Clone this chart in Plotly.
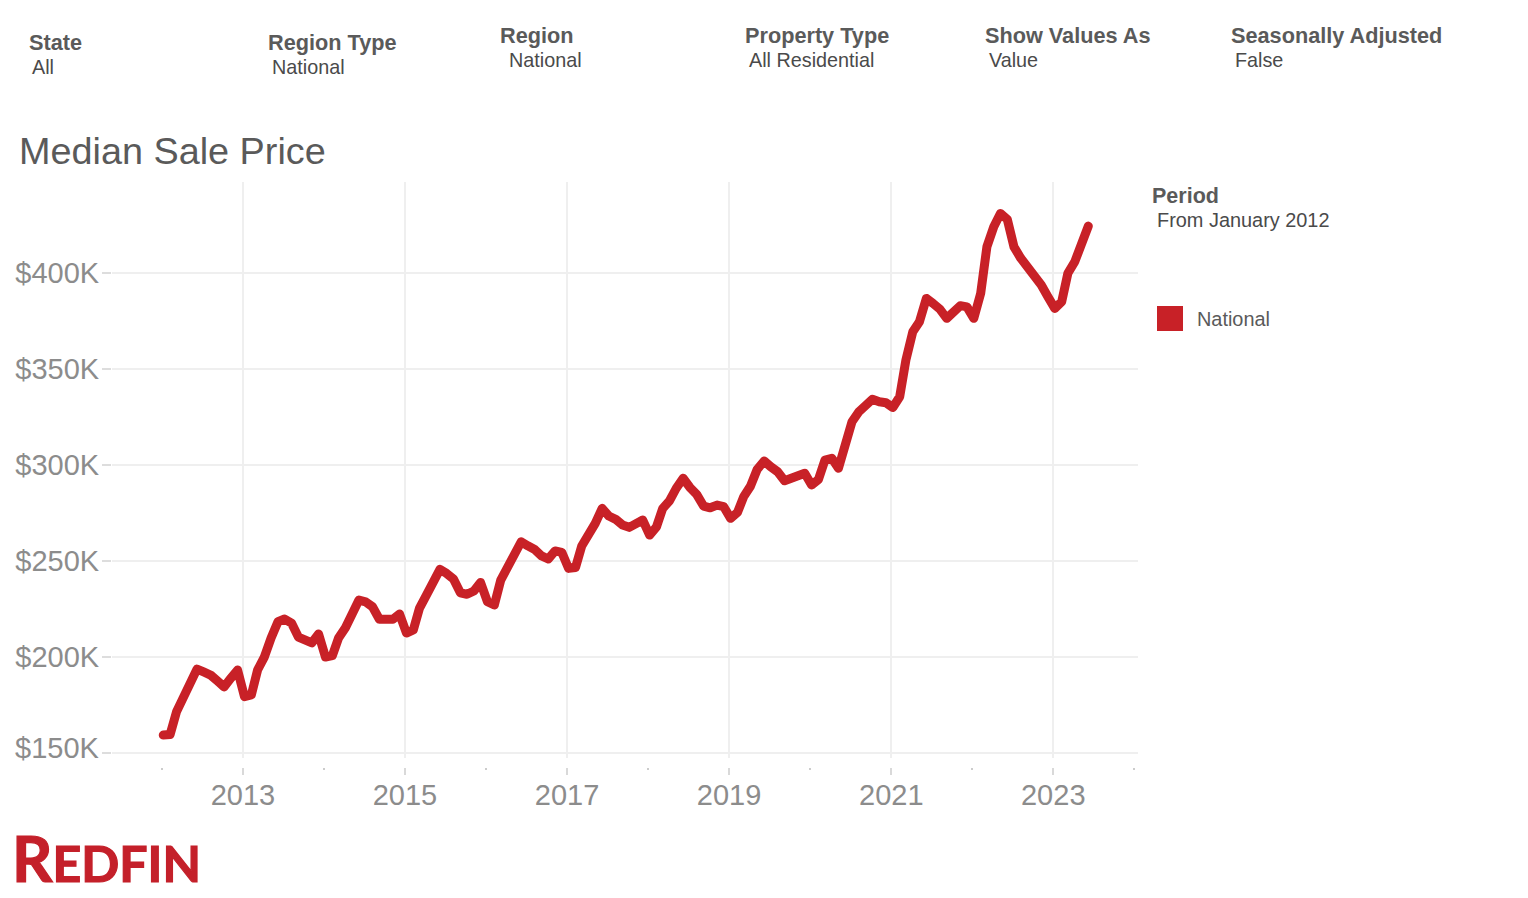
import pandas as pd
import plotly.graph_objects as go

months = pd.date_range("2012-01-08", periods=138, freq=pd.DateOffset(months=1))
median_sale_price_k = [
    159.1, 159.4, 171.3, 178.4, 186.2, 193.5, 192.0, 190.4, 187.3, 184.2, 188.8, 193.0,
    179.1, 180.0, 193.0, 199.9, 209.7, 218.2, 219.6, 217.5, 210.2, 209.2, 207.2, 211.8,
    199.8, 200.5, 209.7, 215.1, 221.7, 229.5, 228.6, 226.0, 219.5, 219.1, 219.5, 222.2,
    212.3, 213.9, 225.3, 232.1, 239.1, 245.5, 243.4, 240.5, 233.3, 232.5, 234.2, 238.7,
    228.6, 226.9, 239.9, 246.6, 253.0, 259.9, 257.8, 255.9, 252.5, 250.9, 255.1, 254.4,
    246.0, 246.5, 257.7, 262.9, 269.5, 277.3, 273.3, 271.6, 268.6, 267.4, 269.8, 271.2,
    263.4, 267.7, 277.3, 281.3, 287.8, 293.0, 288.3, 284.6, 278.5, 277.6, 279.0, 278.2,
    272.1, 275.2, 283.4, 289.0, 297.7, 302.0, 299.0, 296.4, 291.7, 293.0, 294.0, 295.6,
    289.5, 292.4, 302.5, 303.4, 298.2, 310.3, 322.5, 327.7, 331.6, 334.2, 332.9, 332.4,
    329.9, 335.5, 354.7, 369.4, 374.6, 386.8, 384.2, 381.2, 376.4, 379.3, 383.0, 382.4,
    376.4, 389.4, 413.7, 424.2, 431.1, 428.0, 413.7, 407.7, 403.3, 399.9, 393.8, 387.7,
    381.6, 385.0, 399.9, 405.9, 416.3, 424.5,
]
y_ticks = [150, 200, 250, 300, 350, 400]
y_labels = ["", "$200K", "$250K", "$300K", "$350K", "$400K"]
lowest_label = "$150K"

filters = [
    ("State", "All", 29, 42.5, 32, 67),
    ("Region Type", "National", 268, 42.5, 272, 67),
    ("Region", "National", 500, 35.5, 509, 60),
    ("Property Type", "All Residential", 745, 35.5, 749, 60),
    ("Show Values As", "Value", 985, 35.5, 988.5, 60),
    ("Seasonally Adjusted", "False", 1231, 35.5, 1235, 60),
]

W, H = 1528, 898
L, R, T, B = 112, 1138, 182, 767
FONT = "Liberation Sans"
RED = "#c82127"


def px(x):
    return (x - L) / (R - L)


def py(y):
    return (B - y) / (B - T)


def text(x, y, s, size, color, bold=False, family=FONT, anchor="left"):
    return dict(
        xref="paper", yref="paper", x=px(x), y=py(y), text=f"<b>{s}</b>" if bold else s,
        showarrow=False, xanchor=anchor, yanchor="middle",
        font=dict(family=family, size=size, color=color), borderpad=0, borderwidth=0,
    )


anns = []
for head, val, hx, hy, vx, vy in filters:
    anns.append(text(hx, hy, head, 21.7, "#5a5a5a", bold=True))
    anns.append(text(vx, vy, val, 19.8, "#4a4a4a"))
anns.append(text(19, 151, "Median Sale Price", 37.8, "#5a5a5a"))
anns.append(text(1152, 195.5, "Period", 21.5, "#5a5a5a", bold=True))
anns.append(text(1157, 220, "From January 2012", 19.9, "#4a4a4a"))
anns.append(text(1197, 319, "National", 19.9, "#5a5a5a"))
anns.append(text(100, 748, lowest_label, 29, "#8c8c8c", anchor="right"))
anns.append(text(
    12, 858,
    '<span style="font-size:63px">R</span><span style="font-size:50px">EDFIN</span>',
    50, "#c4202a", bold=True, family="Lato",
))

fig = go.Figure(go.Scatter(
    x=months, y=median_sale_price_k, mode="lines", name="National",
    line=dict(color=RED, width=9, shape="linear"), showlegend=False,
    hovertemplate="%{x|%b %Y}: $%{y}K<extra></extra>",
))
fig.update_layout(
    width=W, height=H, autosize=False, paper_bgcolor="white", plot_bgcolor="white",
    margin=dict(l=L, r=W - R, t=T, b=H - B, pad=0),
    font=dict(family=FONT), annotations=anns, showlegend=False,
    shapes=[dict(
        type="rect", xref="paper", yref="paper", x0=px(1157), x1=px(1183),
        y0=py(331), y1=py(306), fillcolor=RED, line_width=0,
    )],
    xaxis=dict(
        type="date", range=["2011-05-22", "2024-01-18"], anchor="free", position=0,
        tick0="2013-01-01", dtick="M24", tickformat="%Y",
        ticks="outside", ticklen=7, tickwidth=2, tickcolor="#d9d9d9",
        ticklabelstandoff=-5,
        showgrid=True, gridcolor="#efefef", gridwidth=2, showline=False, zeroline=False,
        tickfont=dict(family=FONT, size=29, color="#8c8c8c"),
        minor=dict(tick0="2012-01-01", dtick="M24", ticks="outside", ticklen=2,
                   tickwidth=1.5, tickcolor="#cccccc", showgrid=False),
    ),
    yaxis=dict(
        range=[147.13, 447.5], domain=[(B - 758) / (B - T), 1],
        tickmode="array", tickvals=y_ticks, ticktext=y_labels,
        ticks="outside", ticklen=9, tickwidth=1.5, tickcolor="#dddddd",
        ticklabelstandoff=-3,
        showgrid=True, gridcolor="#efefef", gridwidth=1.5, showline=False, zeroline=False,
        tickfont=dict(family=FONT, size=29, color="#8c8c8c"),
    ),
)
fig.write_html(
    "out.html",
    config={"displayModeBar": False},
    post_script=(
        "document.body.style.margin='0';document.body.style.overflow='hidden';"
        "document.querySelectorAll('.js-line').forEach(function(e){"
        "e.style.strokeLinejoin='round';e.style.strokeLinecap='round';});"
        "var a=document.querySelectorAll('.annotation-text');var l=a[a.length-1];"
        "l.style.stroke='#c4202a';l.style.strokeWidth='1.2px';"
    ),
)
